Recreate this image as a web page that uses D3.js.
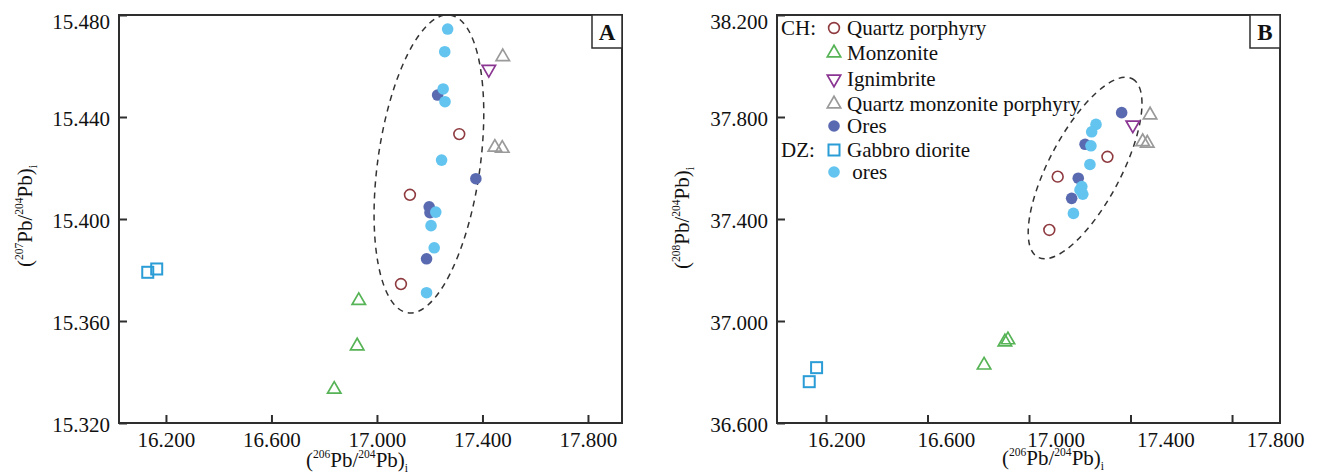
<!DOCTYPE html>
<html>
<head>
<meta charset="utf-8">
<script src="https://cdn.jsdelivr.net/npm/d3@7/dist/d3.min.js"></script>
<style>
  html, body { margin: 0; padding: 0; background: #fff; }
  svg { display: block; }
  text { font-family: "Liberation Serif", "Times New Roman", serif; fill: #111; }
</style>
</head>
<body>
<svg id="chart" width="1317" height="475"></svg>
<script>
// ---- tick values ----
const xTicks = [16.2, 16.6, 17.0, 17.4, 17.8];
const yTicksA = [15.32, 15.36, 15.40, 15.44, 15.48];
const yTicksB = [36.6, 37.0, 37.4, 37.8, 38.2];

// ---- panel A: (206Pb/204Pb)i vs (207Pb/204Pb)i ----
const quartzPorphyryA = [[17.312, 15.4333], [17.125, 15.4095], [17.091, 15.3745]];
const monzoniteA = [[16.931, 15.368], [16.925, 15.3502], [16.838, 15.3332]];
const ignimbriteA = [[17.424, 15.4587]];
const qmPorphyryA = [[17.477, 15.4636], [17.447, 15.4281], [17.475, 15.4277]];
const chOresA = [[17.230, 15.4486], [17.375, 15.4158], [17.198, 15.4048], [17.201, 15.4025], [17.188, 15.3844]];
const gabbroA = [[16.131, 15.3791], [16.165, 15.3804]];
const dzOresA = [[17.268, 15.4745], [17.257, 15.4656], [17.251, 15.451], [17.258, 15.446], [17.245, 15.4231],
                 [17.223, 15.4027], [17.205, 15.3974], [17.217, 15.3887], [17.188, 15.3711]];
// field outline: centre, end of long axis, short/long ratio
const fieldA = { c: [17.197, 15.4216], tip: [17.277, 15.48], ratio: 0.34 };

// ---- panel B: (206Pb/204Pb)i vs (208Pb/204Pb)i ----
const quartzPorphyryB = [[17.309, 37.644], [17.113, 37.566], [17.080, 37.357]];
const monzoniteB = [[16.905, 36.918], [16.917, 36.926], [16.823, 36.827]];
const ignimbriteB = [[17.409, 37.769]];
const qmPorphyryB = [[17.477, 37.808], [17.448, 37.703], [17.466, 37.697]];
const chOresB = [[17.365, 37.817], [17.221, 37.693], [17.194, 37.560], [17.168, 37.481]];
const gabbroB = [[16.134, 36.762], [16.163, 36.817]];
const dzOresB = [[17.264, 37.771], [17.247, 37.742], [17.244, 37.687], [17.240, 37.614],
                 [17.208, 37.527], [17.212, 37.497], [17.201, 37.514], [17.175, 37.422]];
const fieldB = { c: [17.221, 37.60], tip: [17.407, 37.95], ratio: 0.356 };

// ---- legend entries ----
const legendGroups = ["CH:", "", "", "", "", "DZ:", ""];
const legendLabels = ["Quartz porphyry", "Monzonite", "Ignimbrite", "Quartz monzonite porphyry", "Ores", "Gabbro diorite", " ores"];
const legendKinds = ["qp", "monz", "ign", "qmp", "chOre", "gabbro", "dzOre"];

const COL = {
  qp: "#8e3a3f", monz: "#56b356", ign: "#8a3592", qmp: "#9a9a9a",
  chOre: "#5a6ab0", gabbro: "#2a9cd6", dzOre: "#62c4ef", frame: "#2e2e2e"
};

const svg = d3.select("#chart");
const FONT = 21;

function drawMarker(g, kind, px, py) {
  if (kind === "qp") {
    g.append("circle").attr("cx", px).attr("cy", py).attr("r", 5.4)
      .attr("fill", "none").attr("stroke", COL.qp).attr("stroke-width", 1.6);
  } else if (kind === "monz" || kind === "qmp" || kind === "ign") {
    g.append("path").attr("d", d3.symbol(d3.symbolTriangle, 78)())
      .attr("transform", `translate(${px},${py})` + (kind === "ign" ? " rotate(180)" : ""))
      .attr("fill", "none").attr("stroke", COL[kind]).attr("stroke-width", 1.7);
  } else if (kind === "gabbro") {
    g.append("rect").attr("x", px - 5.5).attr("y", py - 5.5).attr("width", 11).attr("height", 11)
      .attr("fill", "none").attr("stroke", COL.gabbro).attr("stroke-width", 2);
  } else {
    g.append("circle").attr("cx", px).attr("cy", py).attr("r", 5.8)
      .attr("fill", COL[kind]).attr("stroke", "none");
  }
}

function superText(sel, parts, size) {
  // parts: [text, "n"|"sup"|"sub"]
  let shift = 0;
  parts.forEach(([t, kind]) => {
    const target = kind === "sup" ? -size * 0.45 : kind === "sub" ? size * 0.25 : 0;
    sel.append("tspan").attr("dy", target - shift)
      .attr("font-size", kind === "n" ? size : size * 0.55).text(t);
    shift = target;
  });
}

function panel(opt) {
  const { left, right, top, bottom, xDomain, yDomain, yTicks, label, series, field } = opt;
  const x = d3.scaleLinear().domain(xDomain).range([left, right]);
  const y = d3.scaleLinear().domain(yDomain).range([bottom, top]);
  const g = svg.append("g");

  // dashed field outline
  const c = [x(field.c[0]), y(field.c[1])];
  const t = [x(field.tip[0]), y(field.tip[1])];
  const a = Math.hypot(t[0] - c[0], t[1] - c[1]);
  const ang = Math.atan2(t[1] - c[1], t[0] - c[0]) * 180 / Math.PI;
  g.append("ellipse").attr("cx", 0).attr("cy", 0).attr("rx", a).attr("ry", a * field.ratio)
    .attr("transform", `translate(${c[0]},${c[1]}) rotate(${ang})`)
    .attr("fill", "none").attr("stroke", "#333").attr("stroke-width", 1.5)
    .attr("stroke-dasharray", "6,5");

  // markers
  series.forEach(([kind, pts]) => {
    pts.forEach(p => drawMarker(g, kind, x(p[0]), y(p[1])));
  });

  // frame
  g.append("rect").attr("x", left).attr("y", top).attr("width", right - left).attr("height", bottom - top)
    .attr("fill", "none").attr("stroke", COL.frame).attr("stroke-width", 2);

  // y axis
  const yAxis = d3.axisLeft(y).tickValues(yTicks).tickFormat(d3.format(".3f"))
    .tickSizeInner(-8).tickSizeOuter(0).tickPadding(9);
  const ya = g.append("g").attr("transform", `translate(${left},0)`).call(yAxis);
  ya.select(".domain").remove();
  ya.selectAll("line").attr("stroke", COL.frame).attr("stroke-width", 2);
  ya.selectAll("text").attr("font-size", FONT).attr("font-family", null).attr("fill", "#111")
    .attr("dy", (d, i, n) => i === n.length - 1 ? "0.62em" : "0.42em");

  // x axis ticks
  const xAxis = d3.axisBottom(x).tickValues(xTicks).tickSizeInner(-8).tickSizeOuter(0).tickPadding(9)
    .tickFormat(opt.xLabelScale ? "" : d3.format(".3f"));
  const xa = g.append("g").attr("transform", `translate(0,${bottom})`).call(xAxis);
  xa.select(".domain").remove();
  xa.selectAll("line").attr("stroke", COL.frame).attr("stroke-width", 2);
  xa.selectAll("text").attr("font-size", FONT).attr("font-family", null).attr("fill", "#111");

  // tick labels placed on their own scale
  if (opt.xLabelScale) {
    const la = g.append("g").attr("transform", `translate(0,${bottom})`)
      .call(d3.axisBottom(opt.xLabelScale).tickValues(xTicks).tickFormat(d3.format(".3f"))
        .tickSize(0).tickPadding(9));
    la.select(".domain").remove();
    la.selectAll("line").remove();
    la.selectAll("text").attr("font-size", FONT).attr("font-family", null).attr("fill", "#111");
  }

  // panel letter
  g.append("rect").attr("x", right - 30).attr("y", top).attr("width", 30).attr("height", 33)
    .attr("fill", "#fff").attr("stroke", COL.frame).attr("stroke-width", 1.5);
  g.append("text").attr("x", right - 15).attr("y", top + 25).attr("text-anchor", "middle")
    .attr("font-size", 23).attr("font-weight", "bold").text(label);

  // axis titles
  const xt = g.append("text").attr("x", opt.xTitle[0]).attr("y", opt.xTitle[1])
    .attr("text-anchor", "middle").attr("font-size", FONT);
  superText(xt, [["(", "n"], ["206", "sup"], ["Pb/", "n"], ["204", "sup"], ["Pb)", "n"], ["i", "sub"]], FONT);
  const yt = g.append("text").attr("transform", `translate(${opt.yTitle[0]},${opt.yTitle[1]}) rotate(-90)`)
    .attr("text-anchor", "middle").attr("font-size", FONT);
  superText(yt, [["(", "n"], [opt.yIso, "sup"], ["Pb/", "n"], ["204", "sup"], ["Pb)", "n"], ["i", "sub"]], FONT);

  return { x, y, g };
}

panel({
  left: 119, right: 622, top: 15, bottom: 423,
  xDomain: [16.022, 17.929], yDomain: [15.32, 15.48], yTicks: yTicksA, label: "A",
  field: fieldA,
  series: [["qp", quartzPorphyryA], ["monz", monzoniteA], ["ign", ignimbriteA], ["qmp", qmPorphyryA],
           ["gabbro", gabbroA], ["chOre", chOresA], ["dzOre", dzOresA]],
  xTitle: [357, 467], yTitle: [32, 216], yIso: "207"
});

panel({
  left: 777, right: 1280, top: 15, bottom: 423,
  xDomain: [16.007, 17.989], yDomain: [36.6, 38.2], yTicks: yTicksB, label: "B",
  field: fieldB,
  xLabelScale: d3.scaleLinear().domain([16.2, 17.8]).range([836, 1275]),
  series: [["qp", quartzPorphyryB], ["monz", monzoniteB], ["ign", ignimbriteB], ["qmp", qmPorphyryB],
           ["gabbro", gabbroB], ["chOre", chOresB], ["dzOre", dzOresB]],
  xTitle: [1053, 465], yTitle: [689, 218], yIso: "208"
});

// legend inside panel B
const legRows = [28, 53, 79, 104, 126, 150, 172];
const leg = svg.append("g");
legendLabels.forEach((lab, i) => {
  const yy = legRows[i];
  if (legendGroups[i]) {
    leg.append("text").attr("x", 781).attr("y", yy).attr("dy", "0.35em")
      .attr("font-size", FONT).text(legendGroups[i]);
  }
  drawMarker(leg, legendKinds[i], 834, yy);
  leg.append("text").attr("x", 847).attr("y", yy).attr("dy", "0.35em")
    .attr("font-size", FONT).style("white-space", "pre").text(lab);
});
</script>
</body>
</html>
